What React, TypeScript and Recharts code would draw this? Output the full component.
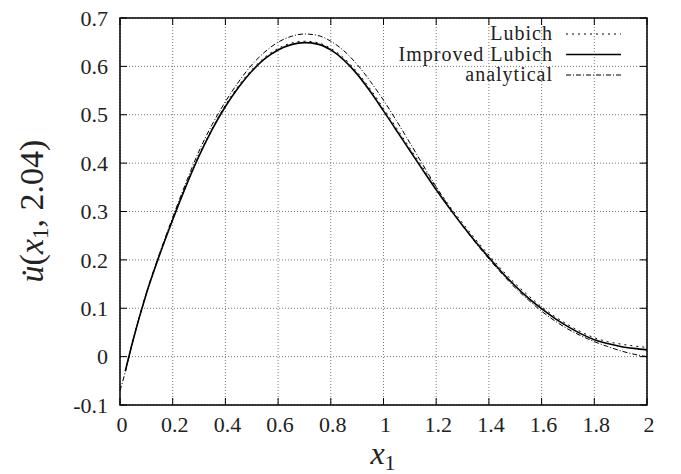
import React from 'react';
import { LineChart, Line, XAxis, YAxis, CartesianGrid, ReferenceArea } from 'recharts';

const xs = [0, 0.02, 0.05, 0.1, 0.15, 0.2, 0.25, 0.3, 0.35, 0.4, 0.45, 0.5, 0.55, 0.6, 0.65, 0.7, 0.75, 0.8, 0.85, 0.9, 0.95, 1.0, 1.05, 1.1, 1.15, 1.2, 1.25, 1.3, 1.35, 1.4, 1.45, 1.5, 1.55, 1.6, 1.65, 1.7, 1.75, 1.8, 1.85, 1.9, 1.95, 2.0];
const improved = [null, -0.03, 0.035, 0.13, 0.21, 0.283, 0.352, 0.415, 0.47, 0.517, 0.557, 0.59, 0.616, 0.634, 0.645, 0.649, 0.646, 0.634, 0.613, 0.584, 0.548, 0.508, 0.467, 0.426, 0.385, 0.345, 0.307, 0.271, 0.237, 0.205, 0.174, 0.146, 0.121, 0.099, 0.079, 0.062, 0.047, 0.035, 0.027, 0.021, 0.017, 0.014];
const lubich = [null, -0.03, 0.035, 0.13, 0.21, 0.284, 0.353, 0.417, 0.472, 0.52, 0.56, 0.593, 0.619, 0.637, 0.648, 0.652, 0.649, 0.637, 0.617, 0.588, 0.553, 0.513, 0.472, 0.431, 0.39, 0.35, 0.312, 0.276, 0.242, 0.21, 0.179, 0.151, 0.126, 0.103, 0.083, 0.066, 0.051, 0.039, 0.031, 0.026, 0.022, 0.019];
const analytical = [-0.07, -0.032, 0.035, 0.132, 0.213, 0.288, 0.359, 0.425, 0.48, 0.527, 0.568, 0.603, 0.63, 0.65, 0.662, 0.667, 0.664, 0.652, 0.632, 0.604, 0.569, 0.53, 0.487, 0.442, 0.396, 0.351, 0.309, 0.271, 0.235, 0.202, 0.171, 0.142, 0.117, 0.094, 0.074, 0.057, 0.043, 0.031, 0.021, 0.012, 0.005, 0.0];

const xTicks = [0, 0.2, 0.4, 0.6, 0.8, 1, 1.2, 1.4, 1.6, 1.8, 2];
const xTickLabels = ['0', '0.2', '0.4', '0.6', '0.8', '1', '1.2', '1.4', '1.6', '1.8', '2'];
const yTicks = [-0.1, 0, 0.1, 0.2, 0.3, 0.4, 0.5, 0.6, 0.7];
const yTickLabels = ['-0.1', '0', '0.1', '0.2', '0.3', '0.4', '0.5', '0.6', '0.7'];

const legendNames = ['Lubich', 'Improved Lubich', 'analytical'];

const data = xs.map((x, i) => ({ x, lubich: lubich[i], improved: improved[i], analytical: analytical[i] }));

const FONT = "'Liberation Serif', 'Times New Roman', Tinos, 'DejaVu Serif', serif";
const serif: React.CSSProperties = { fontFamily: FONT };
const PLOT = { left: 120, right: 647, top: 18, bottom: 405 };

const XTick = (props: any) => {
  const { x, payload } = props;
  const idx = xTicks.findIndex((t) => Math.abs(t - payload.value) < 1e-9);
  return (
    <g>
      <line x1={x} x2={x} y1={PLOT.bottom} y2={PLOT.bottom - 7} stroke="#000" strokeWidth={1} />
      <line x1={x} x2={x} y1={PLOT.top} y2={PLOT.top + 7} stroke="#000" strokeWidth={1} />
      <text x={x + 2} y={432} textAnchor="middle" style={{ ...serif, fontSize: 22 }} fill="#222">
        {idx >= 0 ? xTickLabels[idx] : payload.value}
      </text>
    </g>
  );
};

const YTick = (props: any) => {
  const { y, payload } = props;
  const idx = yTicks.findIndex((t) => Math.abs(t - payload.value) < 1e-9);
  return (
    <g>
      <line x1={PLOT.left} x2={PLOT.left + 7} y1={y} y2={y} stroke="#000" strokeWidth={1} />
      <line x1={PLOT.right} x2={PLOT.right - 7} y1={y} y2={y} stroke="#000" strokeWidth={1} />
      <text x={108} y={y} dy="0.35em" textAnchor="end" style={{ ...serif, fontSize: 22 }} fill="#222">
        {idx >= 0 ? yTickLabels[idx] : payload.value}
      </text>
    </g>
  );
};

export default function App() {
  return (
    <div style={{ position: 'absolute', left: 0, top: 0, width: 681, height: 474, background: '#fff' }}>
      <LineChart width={681} height={474} data={data} margin={{ top: 18, right: 34, bottom: 0, left: 0 }}>
        <CartesianGrid stroke="#777" strokeDasharray="1 2" strokeWidth={1} />
        <XAxis
          dataKey="x"
          type="number"
          domain={[0, 2]}
          ticks={xTicks}
          height={69}
          axisLine={false}
          tickLine={false}
          tick={<XTick />}
          interval={0}
        />
        <YAxis
          type="number"
          domain={[-0.1, 0.7]}
          ticks={yTicks}
          width={120}
          axisLine={false}
          tickLine={false}
          tick={<YTick />}
          interval={0}
        />
        <ReferenceArea x1={0} x2={2} y1={-0.1} y2={0.7} fill="none" stroke="#000" strokeWidth={1.5} ifOverflow="visible" />
        <Line dataKey="lubich" type="monotone" stroke="#000" strokeWidth={1} strokeDasharray="2 4" dot={false} isAnimationActive={false} />
        <Line dataKey="improved" type="monotone" stroke="#000" strokeWidth={1.6} dot={false} isAnimationActive={false} />
        <Line dataKey="analytical" type="monotone" stroke="#000" strokeWidth={1} strokeDasharray="5 2 1 2" dot={false} isAnimationActive={false} />
      </LineChart>
      <svg width={681} height={474} style={{ position: 'absolute', left: 0, top: 0, pointerEvents: 'none' }}>
        <g style={{ ...serif, fontSize: 20 }} fill="#222">
          <text x={553} y={40} textAnchor="end" letterSpacing={1}>{legendNames[0]}</text>
          <text x={553} y={60.5} textAnchor="end" letterSpacing={1}>{legendNames[1]}</text>
          <text x={553} y={81} textAnchor="end" letterSpacing={1}>{legendNames[2]}</text>
        </g>
        <line x1={566} x2={621} y1={34} y2={34} stroke="#000" strokeWidth={1} strokeDasharray="2 4" />
        <line x1={566} x2={621} y1={54.5} y2={54.5} stroke="#000" strokeWidth={1.6} />
        <line x1={566} x2={621} y1={75} y2={75} stroke="#000" strokeWidth={1} strokeDasharray="5 2 1 2" />
        <text x={383} y={464} textAnchor="middle" style={{ ...serif, fontSize: 32 }} fill="#222">
          <tspan fontStyle="italic">x</tspan>
          <tspan style={{ fontSize: 22 }} dy={6}>1</tspan>
        </text>
        <text
          transform="translate(43,211) rotate(-90)"
          textAnchor="middle"
          style={{ ...serif, fontSize: 34 }}
          fill="#222"
        >
          <tspan fontStyle="italic">{'u\u0307'}</tspan>
          <tspan>(</tspan>
          <tspan fontStyle="italic">x</tspan>
          <tspan style={{ fontSize: 23 }} dy={5}>1</tspan>
          <tspan dy={-5}>, 2.04)</tspan>
        </text>
      </svg>
    </div>
  );
}
